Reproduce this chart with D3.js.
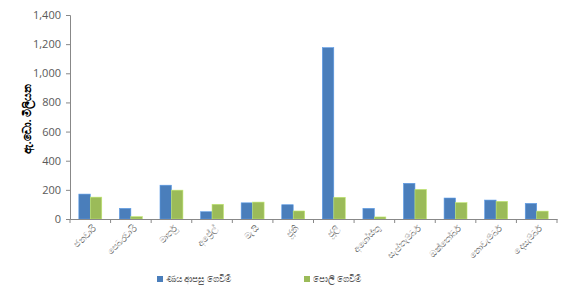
<!DOCTYPE html>
<html><head><meta charset="utf-8">
<script src="https://cdn.jsdelivr.net/npm/d3@7"></script>
<style>body{margin:0;background:#fff}svg{display:block}text{font-family:"Open Sans","Noto Sans",sans-serif}</style>
</head><body><svg id="c" width="570" height="289"></svg>
<script>
const months = ["ජනවාරි","පෙබරවාරි","මාර්තු","අප්‍රේල්","මැයි","ජූනි","ජූලි","අගෝස්තු","සැප්තැම්බර්","ඔක්තෝබර්","නොවැම්බර්","දෙසැම්බර්"];
const seriesNames = ["ණය ආපසු ගෙවීම්","පොලී ගෙවීම්"];
const repayment = [171,73,232,50,111,98,1176,73,245,144,130,107];
const interest = [150,16,198,101,116,55,149,14,203,112,121,54];
const yTicks = [0,200,400,600,800,1000,1200,1400];
const yTitle = "ඇ.ඩො. මිලියන";
const colors = ["#4A7EBB","#9BBB59"];

const svg = d3.select("#c");
const m = {l:70, r:13, t:15, b:70};
const W = 570, H = 289;
const x = d3.scaleBand().domain(months).range([m.l, W - m.r]);
const y = d3.scaleLinear().domain([0,1400]).range([H - m.b, m.t]);
const inner = d3.scaleBand().domain([0,1]).range([0, x.bandwidth()]).paddingInner(0).paddingOuter(0.77);

const data = [repayment, interest];
const g = svg.append("g");
data.forEach((vals, si) => {
  g.selectAll(null).data(vals).enter().append("rect")
    .attr("x", (d,i) => x(months[i]) + inner(si))
    .attr("y", d => y(d))
    .attr("width", inner.bandwidth())
    .attr("height", d => y(0) - y(d))
    .attr("fill", colors[si])
    .attr("stroke", d3.color(colors[si]).brighter(0.6))
    .attr("stroke-width", 0.6);
});

// y axis
const ya = svg.append("g").attr("transform", `translate(${m.l},0)`)
  .call(d3.axisLeft(y).tickValues(yTicks).tickSize(4).tickPadding(5).tickFormat(d3.format(",")));
ya.select(".domain").attr("stroke","#888");
ya.selectAll(".tick line").attr("stroke","#888");
ya.selectAll("text").attr("fill","#595959").style("font-size","11px");

// x axis
const xa = svg.append("g").attr("transform", `translate(0,${y(0)})`)
  .call(d3.axisBottom(x).tickSize(0).tickPadding(0));
xa.select(".domain").attr("stroke","#888").attr("stroke-width",1.2);
xa.selectAll(".tick line").remove();
xa.selectAll(".tick text")
  .attr("fill","#595959").style("font-size","9px")
  .attr("text-anchor","end")
  .attr("transform","translate(4,8) rotate(-45)")
  .attr("dy","0.35em");
// boundary ticks
const bounds = months.map(mm => x(mm)).concat([W - m.r]);
svg.append("g").selectAll("line").data(bounds).enter().append("line")
  .attr("x1", d => d).attr("x2", d => d)
  .attr("y1", y(0)).attr("y2", y(0) + 4)
  .attr("stroke","#888");

// y title
svg.append("text")
  .attr("transform", `translate(31,${(m.t + y(0))/2 + 2}) rotate(-90)`)
  .attr("text-anchor","middle")
  .attr("fill","#000").style("font-size","10.5px").style("font-weight","bold")
  .text(yTitle);

// legend
const legX = [157, 304];
const lg = svg.append("g");
seriesNames.forEach((n, i) => {
  lg.append("rect").attr("x", legX[i]).attr("y", 276).attr("width", 6).attr("height", 6).attr("fill", colors[i]);
  lg.append("text").attr("x", legX[i] + 9).attr("y", 279).attr("dy","0.35em")
    .attr("fill","#595959").style("font-size","9px").text(n);
});
</script></body></html>
